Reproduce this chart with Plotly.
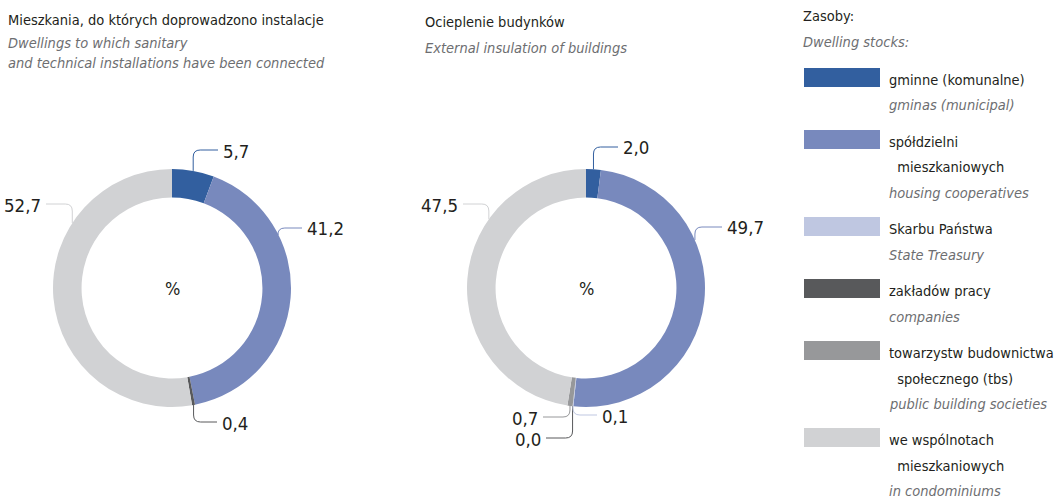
import math
import plotly.graph_objects as go

W, H = 1061, 498

# ---- data ----
categories = ["gminne (komunalne)", "spółdzielni mieszkaniowych", "Skarbu Państwa",
              "zakładów pracy", "towarzystw budownictwa społecznego (tbs)", "we wspólnotach mieszkaniowych"]
installations = [5.7, 41.2, 0.0, 0.4, 0.0, 52.7]
insulation = [2.0, 49.7, 0.1, 0.0, 0.7, 47.5]
value_labels_1 = ["5,7", "41,2", None, "0,4", None, "52,7"]
value_labels_2 = ["2,0", "49,7", "0,1", "0,0", "0,7", "47,5"]

legend_pl = [["gminne (komunalne)"], ["spółdzielni", "  mieszkaniowych"], ["Skarbu Państwa"],
             ["zakładów pracy"], ["towarzystw budownictwa", "  społecznego (tbs)"],
             ["we wspólnotach", "  mieszkaniowych"]]
legend_en = ["gminas (municipal)", "housing cooperatives", "State Treasury", "companies",
             "public building societies", "in condominiums"]

colors = ["#325F9F", "#7889BD", "#BFC7E1", "#58595B", "#97989A", "#D1D2D4"]

FONT = "DejaVu Sans Condensed, Liberation Sans Narrow, sans-serif"
DARK = "#231F20"
GREY = "#6D6E71"
TS = 14.5  # text size

R = 119  # outer radius px
HOLE = 0.76

def px(x):
    return x / W

def py(y):
    return 1 - y / H

fig = go.Figure()

pies = [
    dict(values=installations, labels=value_labels_1, cx=172, cy=288,
         # (slice index, fraction within slice, elbow y, line end x, text side)
         leaders=[(0, 0.5, 150, 218, "r"), (1, 0.285, 228, 302, "r"),
                  (3, 0.5, 422, 217, "r"), (5, 0.70, 204, 46, "l")]),
    dict(values=insulation, labels=value_labels_2, cx=586, cy=288,
         leaders=[(0, 0.5, 147, 618, "r"), (1, 0.33, 227, 722, "r"),
                  (5, 0.68, 204, 463, "l"), (4, 0.5, 417, 543, "l"),
                  (3, 0.5, 438, 546, "l"), (2, 0.5, 415, 597, "r")]),
]

shapes = []
annotations = []

for p in pies:
    cx, cy = p["cx"], p["cy"]
    fig.add_trace(go.Pie(
        values=p["values"], labels=categories, sort=False, direction="clockwise",
        rotation=0, hole=HOLE, textinfo="none", hoverinfo="label+value",
        marker=dict(colors=colors, line=dict(width=0)),
        domain=dict(x=[px(cx - R), px(cx + R)], y=[py(cy + R), py(cy - R)]),
        showlegend=False,
    ))
    total = sum(p["values"])
    starts = []
    acc = 0
    for v in p["values"]:
        starts.append(acc)
        acc += v
    for idx, frac, ly, xend, side in p["leaders"]:
        ang = (starts[idx] + frac * p["values"][idx]) / total * 2 * math.pi
        x0 = cx + R * math.sin(ang)
        y0 = cy - R * math.cos(ang)
        s = 1 if xend > x0 else -1
        v = 1 if ly > y0 else -1
        r = 7
        path = (f"M {px(x0)},{py(y0)} L {px(x0)},{py(ly - v * r)} "
                f"Q {px(x0)},{py(ly)} {px(x0 + s * r)},{py(ly)} L {px(xend)},{py(ly)}")
        shapes.append(dict(type="path", xref="paper", yref="paper", path=path,
                           line=dict(color=colors[idx], width=1)))
        anchor = "left" if side == "r" else "right"
        xt = xend + 3 if side == "r" else xend - 3
        annotations.append(dict(x=px(xt), y=py(ly + 1), text=p["labels"][idx],
                                xanchor=anchor, yanchor="middle", showarrow=False,
                                font=dict(size=18.5, color=DARK, family=FONT)))
    annotations.append(dict(x=px(cx), y=py(cy), text="%", xanchor="center", yanchor="middle",
                            showarrow=False, font=dict(size=18, color=DARK, family=FONT)))

def text(x, y, t, italic=False, size=TS, color=None):
    annotations.append(dict(x=px(x), y=py(y), text=(f"<i>{t}</i>" if italic else t),
                            xanchor="left", yanchor="middle", showarrow=False,
                            font=dict(size=size, color=color or (GREY if italic else DARK), family=FONT)))

# titles
text(6, 20, "Mieszkania, do których doprowadzono instalacje")
text(6, 43, "Dwellings to which sanitary", italic=True)
text(6, 63, "and technical installations have been connected", italic=True)
text(423, 22, "Ocieplenie budynków")
text(423, 48, "External insulation of buildings", italic=True)

# legend
text(801, 16, "Zasoby:")
text(801, 42, "Dwelling stocks:", italic=True)
sw_top = [68, 130, 217, 279, 341, 428]
for i in range(len(categories)):
    t0 = sw_top[i]
    shapes.append(dict(type="rect", xref="paper", yref="paper", x0=px(804), x1=px(880),
                       y0=py(t0 + 19), y1=py(t0), fillcolor=colors[i], line=dict(width=0)))
    yy = t0 + 12
    for line in legend_pl[i]:
        text(887, yy, line.replace("  ", "&nbsp;&nbsp;"))
        yy += 25.5
    text(887, yy, legend_en[i], italic=True)

fig.update_layout(
    width=W, height=H, margin=dict(l=0, r=0, t=0, b=0),
    paper_bgcolor="white", plot_bgcolor="white",
    shapes=shapes, annotations=annotations, showlegend=False,
)

fig.write_html("out.html", config={"displayModeBar": False},
               post_script="document.body.style.margin='0px';")
